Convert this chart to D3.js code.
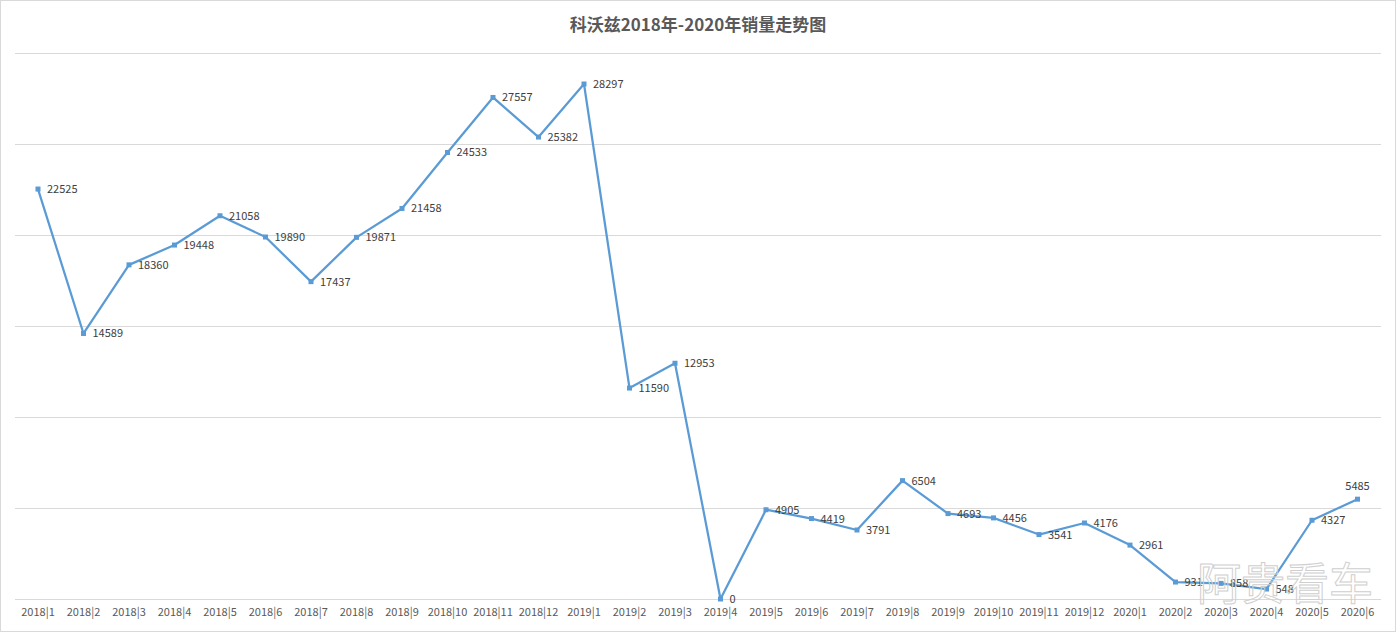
<!DOCTYPE html>
<html><head><meta charset="utf-8">
<script src="https://cdn.jsdelivr.net/npm/d3@7"></script>
<style>body{margin:0;background:#fff}text{font-family:"Microsoft YaHei","Noto Sans CJK SC",sans-serif}</style>
</head><body><svg id="c" width="1396" height="632"></svg>
<script>
const categories = ["2018|1","2018|2","2018|3","2018|4","2018|5","2018|6","2018|7","2018|8","2018|9","2018|10","2018|11","2018|12",
"2019|1","2019|2","2019|3","2019|4","2019|5","2019|6","2019|7","2019|8","2019|9","2019|10","2019|11","2019|12",
"2020|1","2020|2","2020|3","2020|4","2020|5","2020|6"];
const sales = [22525,14589,18360,19448,21058,19890,17437,19871,21458,24533,27557,25382,
28297,11590,12953,0,4905,4419,3791,6504,4693,4456,3541,4176,2961,931,858,548,4327,5485];
const yTicks = [0,5000,10000,15000,20000,25000,30000];
const title = "科沃兹2018年-2020年销量走势图";

const svg = d3.select("#c");
svg.append("rect").attr("x",0.5).attr("y",0.5).attr("width",1395).attr("height",631).attr("fill","#fff").attr("stroke","#d9d9d9");
const x = d3.scaleBand().domain(categories).range([15.25,1380.25]);
const y = d3.scaleLinear().domain([0,30000]).range([599,53]);
svg.append("g").selectAll("line").data(yTicks).join("line")
 .attr("x1",15).attr("x2",1381).attr("y1",d=>Math.round(y(d))+0.5).attr("y2",d=>Math.round(y(d))+0.5)
 .attr("stroke","#d9d9d9");
const xa = svg.append("g").attr("transform","translate(0,599)").call(d3.axisBottom(x).tickSize(0).tickPadding(9));
xa.select(".domain").remove();
xa.selectAll("text").attr("font-size",11).attr("fill","#595959").attr("font-family","Calibri,'Liberation Sans',sans-serif");
svg.append("text").attr("x",698).attr("y",31).attr("text-anchor","middle").attr("font-size",17).attr("font-weight","bold").attr("fill","#595959").text(title);
const cx = (d,i)=>x(categories[i])+x.bandwidth()/2;
svg.append("path").datum(sales).attr("fill","none").attr("stroke","#5b9bd5").attr("stroke-width",2.25).attr("stroke-linejoin","round")
 .attr("d",d3.line().x((d,i)=>cx(d,i)).y(d=>y(d)));
svg.append("g").selectAll("rect").data(sales).join("rect")
 .attr("x",(d,i)=>cx(d,i)-2.5).attr("y",d=>y(d)-2.5).attr("width",5).attr("height",5).attr("fill","#5b9bd5");
svg.append("g").selectAll("text").data(sales).join("text")
 .attr("x",(d,i)=>i===29?cx(d,i):cx(d,i)+9)
 .attr("y",(d,i)=>i===29?y(d)-9:y(d)+4)
 .attr("text-anchor",(d,i)=>i===29?"middle":"start")
 .attr("font-size",11).attr("fill","#404040").attr("font-family","Calibri,'Liberation Sans',sans-serif").text(d=>d);
svg.append("text").attr("x",1285).attr("y",600).attr("text-anchor","middle").attr("font-size",44).attr("fill","none")
 .attr("stroke","#cfcfcf").attr("stroke-width",1).text("阿贵看车");
</script></body></html>
